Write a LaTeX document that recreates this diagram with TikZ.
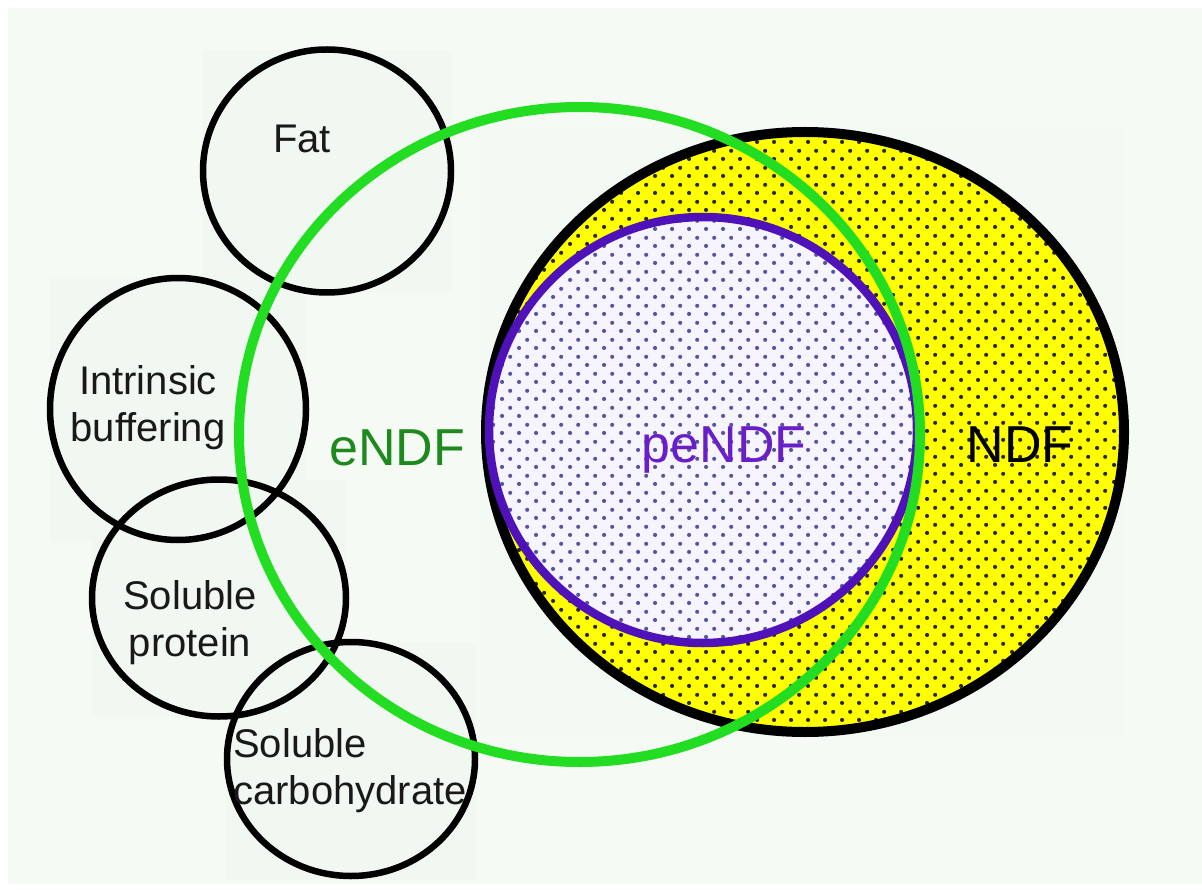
\documentclass[tikz,border=0pt]{standalone}
\usepackage{fontspec}
\setmainfont{Liberation Sans}
\usepackage{tikz}
\usetikzlibrary{shapes.geometric, patterns}
\definecolor{fondo}{HTML}{F5FAF5}
\definecolor{panel}{HTML}{F1F7F1}
\definecolor{verde}{HTML}{22DD22}
\definecolor{verdeosc}{HTML}{1E8A1E}
\definecolor{morado}{HTML}{4F12B8}
\definecolor{moradotxt}{HTML}{6A1EC8}
\definecolor{amarillo}{HTML}{FFFF00}
\definecolor{lila}{HTML}{F6F4FF}
\definecolor{puntolila}{HTML}{5656A0}
\definecolor{puntoosc}{HTML}{2A2A08}
\pgfdeclarepatternformonly{halftone}{\pgfqpoint{0pt}{0pt}}{\pgfqpoint{16.6pt}{16.6pt}}{\pgfqpoint{16.6pt}{16.6pt}}{%
  \pgfpathcircle{\pgfqpoint{4.15pt}{4.15pt}}{2.1pt}%
  \pgfpathcircle{\pgfqpoint{12.45pt}{12.45pt}}{2.1pt}%
  \pgfusepath{fill}}
\tikzset{
  ring/.style={ellipse, draw=black, line width=6.5pt, inner sep=0pt},
  etiqueta/.style={font=\fontsize{40}{47}\selectfont, text=black!90, inner sep=0pt, align=center},
  grande/.style={font=\fontsize{52}{60}\selectfont, inner sep=0pt, anchor=base},
}

\begin{document}
\begin{tikzpicture}[x=1pt, y=-1pt]
  \useasboundingbox (0,0) rectangle (1202,890);
  \fill[white] (0,0) rectangle (1202,890);
  \fill[fondo] (8,8) rectangle (1202,884);
  % faint slide panels
  \fill[panel] (203,50) rectangle (452,293);
  \fill[panel] (50,277) rectangle (306,541);
  \fill[panel] (92,480) rectangle (346,717);
  \fill[panel] (226,642) rectangle (476,880);
  \fill[panel!50!fondo] (480,128) rectangle (1125,736);

  % small components
  \node[ring, minimum width=248pt, minimum height=243pt] (fat) at (327,171) {};
  \node[ring, minimum width=256pt, minimum height=262pt] (buf) at (178,409) {};
  \node[ring, minimum width=254pt, minimum height=237pt] (prot) at (219,598) {};
  \node[ring, minimum width=248pt, minimum height=234pt] (carb) at (351,759) {};

  % NDF
  \node[ellipse, inner sep=0pt, minimum width=638pt, minimum height=600pt,
        preaction={fill=amarillo}, pattern=halftone, pattern color=puntoosc] (ndf) at (805,432) {};
  \node[ellipse, inner sep=0pt, minimum width=638pt, minimum height=600pt,
        draw=black, line width=10pt] (ndfb) at (805,432) {};

  % peNDF
  \node[ellipse, inner sep=0pt, minimum width=428pt, minimum height=426pt,
        preaction={fill=lila}, pattern=halftone, pattern color=puntolila] (pe) at (703,430) {};
  \node[ellipse, inner sep=0pt, minimum width=428pt, minimum height=426pt,
        draw=morado, line width=8.5pt] (peb) at (703,430) {};

  % eNDF
  \node[ellipse, inner sep=0pt, minimum width=681pt, minimum height=655pt,
        draw=verde, line width=10pt] (e) at (579.5,434.5) {};

  % labels
  \node[etiqueta, anchor=base] (tfat) at (302,153) {Fat};
  \node[etiqueta] (tbuf) at (148,408) {Intrinsic\\buffering};
  \node[etiqueta] (tprot) at (190,623) {Soluble\\protein};
  \node[etiqueta, align=left, anchor=west] (tcarb) at (233,771) {Soluble\\carbohydrate};
  \node[grande, text=verdeosc] (tendf) at (397,465) {eNDF};
  \node[grande, text=moradotxt] (tpendf) at (724,462) {peNDF};
  \node[grande, text=black] (tndf) at (1020,462) {NDF};
\end{tikzpicture}
\end{document}
